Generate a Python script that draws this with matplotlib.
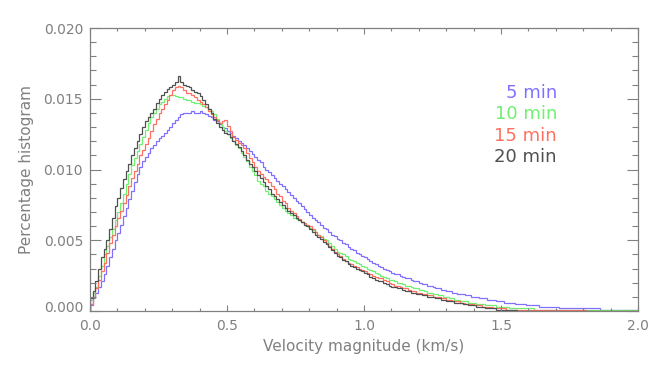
import matplotlib
matplotlib.use("Agg")
import matplotlib.pyplot as plt
import matplotlib.transforms as mtransforms
import numpy as np

# histogram bins: 0.01 km/s wide, 0 -> 2 km/s
edges = np.linspace(0.0, 2.0, 201)

# percentage histograms, in units of 1e-4
h5 = [4, 9, 13, 17, 21, 26, 32, 38, 44, 50,
      55, 61, 67, 73, 79, 85, 91, 97, 102, 106,
      109, 112, 115, 117, 120, 122, 124, 126, 128, 130,
      133, 135, 137, 139, 140, 140, 140, 141, 140, 140,
      141, 140, 139, 138, 137, 135, 134, 132, 130, 129,
      127, 126, 124, 122, 120, 119, 117, 115, 113, 111,
      109, 107, 105, 102, 100, 98, 96, 94, 92, 90,
      88, 86, 84, 82, 80, 78, 76, 74, 72, 70,
      68, 66, 64, 63, 61, 59, 58, 56, 54, 53,
      51, 50, 48, 47, 45, 44, 43, 41, 40, 39,
      38, 37, 35, 34, 33, 32, 31, 30, 29, 28,
      27, 26, 26, 25, 24, 23, 23, 22, 21, 21,
      20, 19, 19, 18, 18, 17, 16, 16, 15, 15,
      14, 14, 13, 13, 12, 12, 12, 11, 11, 10,
      10, 10, 9, 9, 9, 8, 8, 8, 7, 7,
      7, 6, 6, 6, 6, 5, 5, 5, 5, 4,
      4, 4, 4, 4, 3, 3, 3, 3, 3, 3,
      3, 2, 2, 2, 2, 2, 2, 2, 2, 2,
      2, 2, 2, 2, 2, 2, 1, 1, 1, 1,
      1, 1, 1, 1, 1, 1, 1, 1, 1, 1]

h10 = [8, 13, 17, 25, 32, 40, 46, 52, 58, 64,
       70, 76, 83, 90, 97, 103, 108, 113, 118, 123,
       128, 133, 137, 140, 143, 146, 148, 150, 152, 153,
       153, 152, 151, 151, 150, 149, 149, 148, 147, 147,
       146, 145, 144, 143, 141, 139, 136, 133, 130, 127,
       125, 122, 120, 117, 115, 112, 109, 106, 102, 99,
       96, 92, 90, 88, 85, 83, 81, 79, 77, 75,
       73, 71, 69, 68, 66, 65, 64, 63, 61, 60,
       59, 57, 56, 54, 53, 51, 50, 48, 46, 44,
       42, 41, 40, 39, 37, 36, 35, 34, 33, 32,
       31, 30, 29, 28, 27, 26, 25, 24, 23, 22,
       22, 21, 20, 20, 19, 18, 18, 17, 16, 16,
       15, 15, 14, 13, 13, 12, 12, 11, 11, 10,
       10, 9, 9, 8, 8, 7, 7, 7, 6, 6,
       6, 5, 5, 5, 4, 4, 4, 4, 3, 3,
       3, 3, 3, 2, 2, 2, 2, 2, 2, 2,
       2, 2, 1, 1, 1, 1, 1, 1, 1, 1,
       1, 1, 1, 1, 1, 1, 1, 1, 1, 1,
       1, 1, 1, 1, 1, 1, 0.5, 0.5, 0.5, 0.5,
       0.5, 0.5, 0.5, 0.5, 0.5, 0.5, 0.5, 0.5, 0.5, 0.5]

h15 = [5, 10, 16, 22, 28, 34, 41, 48, 54, 60,
       66, 71, 76, 82, 88, 94, 99, 104, 110, 114,
       118, 122, 127, 132, 136, 140, 143, 146, 149, 153,
       156, 158, 159, 158, 156, 154, 154, 153, 151, 149,
       148, 146, 144, 141, 139, 137, 135, 133, 134, 135,
       131, 127, 123, 121, 119, 117, 115, 112, 108, 105,
       102, 99, 97, 95, 93, 91, 88, 86, 83, 81,
       78, 76, 73, 71, 69, 67, 65, 63, 62, 61,
       60, 58, 56, 54, 52, 50, 48, 46, 44, 42,
       40, 39, 37, 35, 34, 33, 32, 31, 30, 29,
       28, 27, 26, 25, 24, 23, 23, 22, 21, 20,
       19, 18, 18, 17, 16, 16, 15, 14, 14, 13,
       13, 12, 12, 11, 11, 10, 10, 10, 9, 9,
       8, 8, 7, 7, 7, 6, 6, 5, 5, 5,
       4, 4, 4, 3, 3, 3, 3, 2, 2, 2,
       2, 2, 1, 1, 1, 1, 1, 1, 1, 1,
       1, 0.5, 0.5, 0.5, 0.5, 0.5, 0.5, 0.5, 0.5, 0.5,
       0.5, 0.5, 0.5, 0.5, 0.5, 0.5, 0.5, 0.5, 0.5, 0.5,
       0.5, 0.3, 0.3, 0.3, 0.3, 0.3, 0.3, 0.3, 0.3, 0.3,
       0.3, 0.3, 0.3, 0.3, 0.3, 0.3, 0.3, 0.3, 0.3, 0.3]

h20 = [9, 14, 21, 30, 38, 44, 50, 58, 66, 74,
       80, 87, 93, 99, 104, 110, 115, 120, 125, 130,
       134, 137, 140, 143, 147, 150, 153, 155, 157, 158,
       160, 162, 166, 162, 160, 159, 158, 156, 155, 154,
       152, 149, 146, 143, 140, 136, 133, 130, 128, 126,
       125, 123, 120, 118, 116, 113, 110, 107, 104, 102,
       99, 96, 94, 91, 88, 86, 83, 81, 79, 77,
       75, 73, 71, 69, 68, 66, 64, 63, 61, 60,
       58, 56, 54, 52, 51, 49, 47, 45, 43, 41,
       39, 38, 36, 35, 33, 32, 31, 30, 29, 28,
       27, 26, 24, 23, 22, 21, 21, 20, 19, 18,
       17, 17, 16, 16, 15, 14, 14, 13, 13, 12,
       12, 11, 11, 10, 10, 10, 9, 9, 8, 8,
       7, 7, 7, 6, 6, 6, 5, 5, 4, 4,
       4, 3, 3, 3, 2, 2, 2, 2, 1, 1,
       1, 1, 1, 1, 1, 1, 0.3, 0.3, 0.3, 0.3,
       0.3, 0.3, 0.3, 0.3, 0.3, 0.3, 0.3, 0.3, 0.3, 0.3,
       0.2, 0.2, 0.2, 0.2, 0.2, 0.2, 0.2, 0.2, 0.2, 0.2,
       0.2, 0.2, 0.2, 0.2, 0.2, 0.2, 0.2, 0.2, 0.2, 0.2,
       0.2, 0.2, 0.2, 0.2, 0.2, 0.2, 0.2, 0.2, 0.2, 0.2]

labels = ["5 min", "10 min", "15 min", "20 min"]
colors = ["#8070ff", "#70f070", "#ff7060", "#505050"]
series = [h5, h10, h15, h20]

axisColor = "#808080"

fig = plt.figure(figsize=(6.64, 3.68), dpi=100)
ax = fig.add_axes([90 / 664, 57 / 368, 548 / 664, 283 / 368])

for vals, col in zip(series, colors):
    ax.stairs(np.array(vals) * 1e-4, edges, color=col, lw=0.9)

ax.set_xlim(0, 2.0)
ax.set_ylim(0, 0.020)

ax.set_xticks(np.arange(0, 2.01, 0.5))
ax.set_xticks(np.arange(0, 2.01, 0.1), minor=True)
ax.set_yticks(np.arange(0, 0.0201, 0.005))
ax.set_yticks(np.arange(0, 0.0201, 0.001), minor=True)
ax.set_xticklabels(["%.1f" % v for v in np.arange(0, 2.01, 0.5)])
ax.set_yticklabels(["%.3f" % v for v in np.arange(0, 0.0201, 0.005)])

ax.tick_params(axis="x", which="major", direction="in", length=4.1, width=0.8,
               top=True, color=axisColor, labelcolor=axisColor, labelsize=10, pad=6)
ax.tick_params(axis="x", which="minor", direction="in", length=2.0, width=0.8,
               top=True, color=axisColor)
ax.tick_params(axis="y", which="major", direction="in", length=7.9, width=0.8,
               right=True, color=axisColor, labelcolor=axisColor, labelsize=10, pad=5)
ax.tick_params(axis="y", which="minor", direction="in", length=4.0, width=0.8,
               right=True, color=axisColor)

for s in ax.spines.values():
    s.set_color(axisColor)
    s.set_linewidth(0.9)

# IDL nudges the bottom y label upwards
lab0 = ax.get_yticklabels()[0]
lab0.set_transform(lab0.get_transform() +
                   mtransforms.ScaledTranslation(0, 5 / 100, fig.dpi_scale_trans))

ax.set_xlabel("Velocity magnitude (km/s)", fontsize=11, color=axisColor, labelpad=4)
ax.set_ylabel("Percentage histogram", fontsize=11, color=axisColor, labelpad=7)

# legend as coloured text
for i, (lab, col) in enumerate(zip(labels, colors)):
    ax.text(557 / 664, 1 - (93 + 21.4 * i) / 368, lab, transform=fig.transFigure,
            ha="right", va="center", fontsize=13, color=col)

fig.savefig("out.png", dpi=100)
